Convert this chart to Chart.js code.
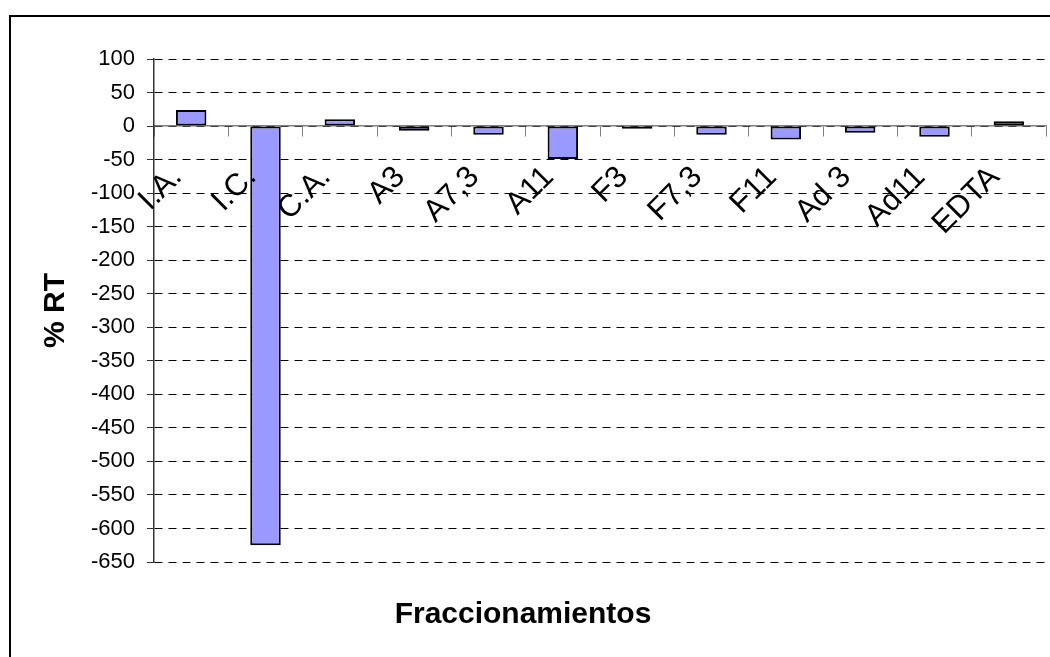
<!DOCTYPE html>
<html>
<head>
<meta charset="utf-8">
<title>% RT por fraccionamiento</title>
<script src="https://cdn.jsdelivr.net/npm/chart.js@4/dist/chart.umd.min.js"></script>
<style>
  html, body { margin: 0; padding: 0; background: #ffffff; }
  canvas { display: block; }
</style>
</head>
<body>
<canvas id="chart" width="1050" height="657"></canvas>
<script>
// Fracciones evaluadas y su % RT
const categories = ['I.A.', 'I.C.', 'C.A.', 'A3', 'A7,3', 'A11', 'F3', 'F7,3', 'F11', 'Ad 3', 'Ad11', 'EDTA'];
const rtValues = [24, -625, 10, -7, -13, -49, -4, -13, -20, -10, -16, 7];
const yTicks = [100, 50, 0, -50, -100, -150, -200, -250, -300, -350, -400, -450, -500, -550, -600, -650];

const yMin = Math.min(...yTicks);
const yMax = Math.max(...yTicks);
const yStep = yTicks[0] - yTicks[1];

// Marco exterior del gráfico
const framePlugin = {
  id: 'frame',
  beforeDraw(chart) {
    const ctx = chart.ctx;
    ctx.save();
    ctx.fillStyle = '#ffffff';
    ctx.fillRect(0, 0, chart.width, chart.height);
    ctx.strokeStyle = '#000000';
    ctx.lineWidth = 2;
    ctx.strokeRect(10, 16, chart.width + 20, chart.height + 20);
    ctx.restore();
  }
};

new Chart(document.getElementById('chart'), {
  type: 'bar',
  data: {
    labels: categories,
    datasets: [{
      data: rtValues,
      backgroundColor: '#9999FF',
      borderColor: '#000000',
      borderWidth: 2,
      borderSkipped: false,
      barPercentage: 0.41,
      categoryPercentage: 1.0
    }]
  },
  options: {
    responsive: false,
    animation: false,
    devicePixelRatio: 1,
    layout: { padding: { left: 0, right: 4, top: 59, bottom: 0 } },
    plugins: {
      legend: { display: false },
      tooltip: { enabled: false },
      title: {
        display: true,
        position: 'bottom',
        text: 'Fraccionamientos',
        color: '#000000',
        font: { family: 'Arial, "Liberation Sans", sans-serif', size: 30, weight: 'bold', lineHeight: 1.2 },
        padding: { top: 35, bottom: 24 }
      }
    },
    scales: {
      x: {
        type: 'category',
        position: { y: 0 },
        offset: true,
        // the axis sits on the zero line, so it takes no room in the layout
        afterFit(scale) {
          scale.height = 0;
          scale.paddingLeft = 0;
          scale.paddingRight = 0;
        },
        grid: {
          display: true,
          drawOnChartArea: false,
          offset: true,
          tickLength: 10,
          color: '#808080',
          lineWidth: 1
        },
        border: { display: true, color: '#808080', width: 1.5 },
        ticks: {
          z: 1,
          autoSkip: false,
          minRotation: 45,
          maxRotation: 45,
          padding: 23,
          labelOffset: -14,
          color: '#000000',
          font: { family: 'Arial, "Liberation Sans", sans-serif', size: 31 }
        }
      },
      y: {
        min: yMin,
        max: yMax,
        afterFit(scale) { scale.width = 154; },
        afterBuildTicks(scale) { scale.ticks = yTicks.map(v => ({ value: v })); },
        ticks: {
          stepSize: yStep,
          padding: 12,
          color: '#000000',
          font: { family: 'Arial, "Liberation Sans", sans-serif', size: 22 }
        },
        grid: {
          color: '#000000',
          lineWidth: 1,
          tickLength: 7,
          tickColor: '#333333',
          tickBorderDash: []
        },
        border: { display: true, color: '#333333', width: 1.5, dash: [8, 6] },
        title: {
          display: true,
          text: '% RT',
          color: '#000000',
          font: { family: 'Arial, "Liberation Sans", sans-serif', size: 30, weight: 'bold', lineHeight: 1.2 },
          padding: { top: 38, bottom: 0 }
        }
      }
    }
  },
  plugins: [framePlugin]
});
</script>
</body>
</html>
